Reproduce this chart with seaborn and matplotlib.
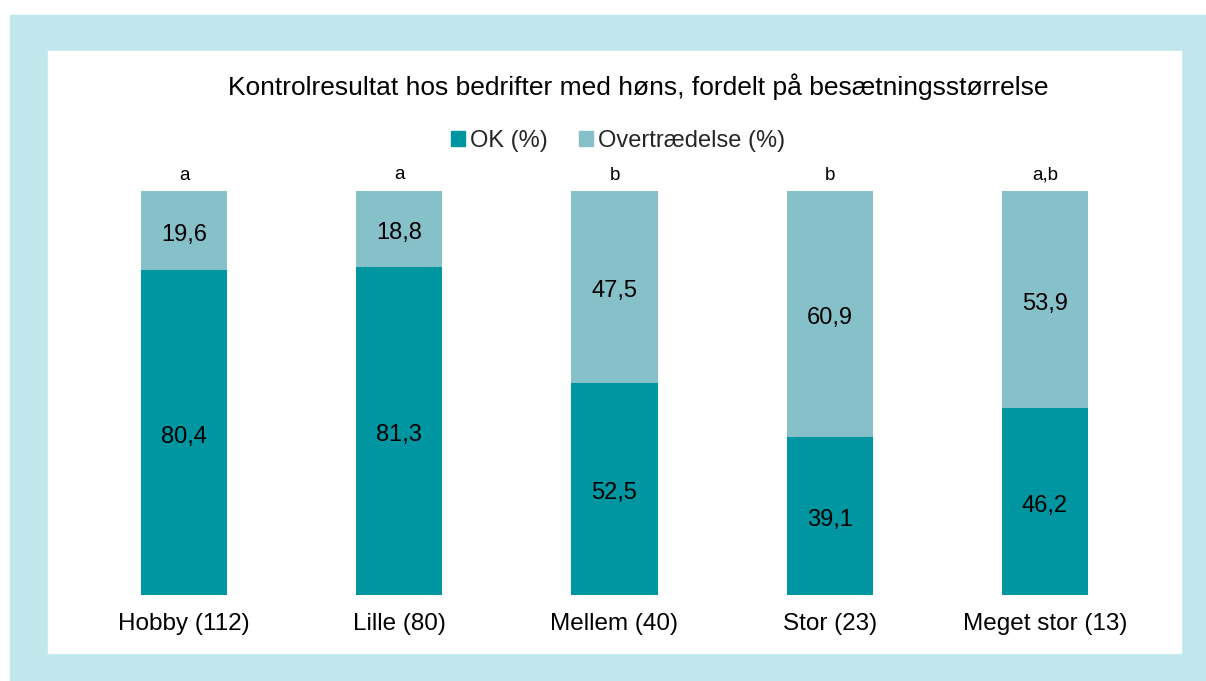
import matplotlib
matplotlib.use("Agg")
import matplotlib.pyplot as plt
import matplotlib.patches as mpatches
import seaborn as sns
import pandas as pd

# Data
categories = ["Hobby (112)", "Lille (80)", "Mellem (40)", "Stor (23)", "Meget stor (13)"]
ok_pct = [80.4, 81.3, 52.5, 39.1, 46.2]
violation_pct = [19.6, 18.8, 47.5, 60.9, 53.9]
group_letters = ["a", "a", "b", "b", "a,b"]

title = "Kontrolresultat hos bedrifter med høns, fordelt på besætningsstørrelse"
series_names = ["OK (%)", "Overtrædelse (%)"]

dark = "#0096a1"
light = "#86c0c9"
frame = "#c0e8ec"

sns.set_theme(style="white")
plt.rcParams['font.family'] = ['Liberation Sans', 'DejaVu Sans']

df = pd.DataFrame({"cat": categories, "ok": ok_pct, "over": violation_pct})
df["total"] = df["ok"] + df["over"]

fig = plt.figure(figsize=(12.06, 6.81), dpi=100)
fig.patch.set_facecolor("white")

# light-blue frame with white inner panel
fig.add_artist(mpatches.Rectangle((10 / 1206, 0), 1 - 10 / 1206, 1 - 15 / 681,
                                  transform=fig.transFigure, color=frame, zorder=0))
fig.add_artist(mpatches.Rectangle((48 / 1206, 28 / 681), (1181 - 48) / 1206, (630 - 28) / 681,
                                  transform=fig.transFigure, color="white", zorder=0))

ax = fig.add_axes([76.4 / 1206, 86 / 681, 1076.2 / 1206, 404 / 681])
ax.patch.set_alpha(0)

# stacked: total in light colour, OK part on top of it in dark
sns.barplot(data=df, x="cat", y="total", color=light, width=0.4, saturation=1, linewidth=0, ax=ax)
sns.barplot(data=df, x="cat", y="ok", color=dark, width=0.4, saturation=1, linewidth=0, ax=ax)

ax.set_xlim(-0.5, 4.5)
ax.set_ylim(0, 100)
ax.set_xlabel("")
ax.set_ylabel("")
ax.set_yticks([])
ax.tick_params(axis="x", length=0, labelsize=17.5, pad=13, colors="black")
sns.despine(ax=ax, left=True, bottom=True, top=True, right=True)

for i, (o, v, t) in enumerate(zip(ok_pct, violation_pct, df["total"])):
    ax.text(i, o / 2 - 1, f"{o:.1f}".replace(".", ","), ha="center", va="center", fontsize=17, color="black")
    ax.text(i, o + (t - o) / 2 - 1, f"{v:.1f}".replace(".", ","), ha="center", va="center", fontsize=17, color="black")
    ax.text(i, t + 1.8, group_letters[i], ha="center", va="bottom", fontsize=13.5, color="black")

fig.text(638 / 1206, 1 - 87 / 681, title, ha="center", va="center", fontsize=19, color="black")

handles = [mpatches.Patch(color=dark, label=series_names[0]),
           mpatches.Patch(color=light, label=series_names[1])]
fig.legend(handles=handles, loc="center", bbox_to_anchor=(618 / 1206, 1 - 141 / 681), ncol=2,
           frameon=False, fontsize=17, handlelength=0.6, handleheight=0.6, handletextpad=0.2,
           columnspacing=1.3)

fig.savefig("out.png", dpi=100)
